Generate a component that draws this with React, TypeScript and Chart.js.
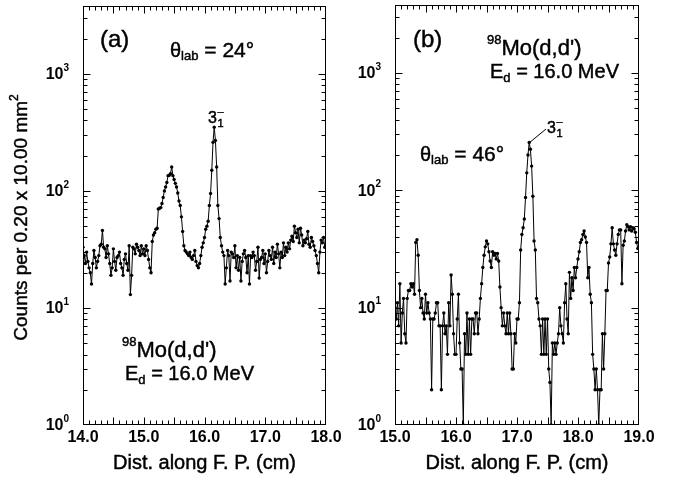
import React, { useEffect, useRef } from "react";
import { Chart, registerables } from "chart.js";
Chart.register(...registerables);

// ---------- data ----------
const xA = [
  14.00,14.02,14.04,14.06,14.08,14.10,14.12,14.14,14.16,14.18,
  14.20,14.22,14.24,14.26,14.28,14.30,14.32,14.34,14.36,14.38,
  14.40,14.42,14.44,14.46,14.48,14.50,14.52,14.54,14.56,14.58,
  14.60,14.62,14.64,14.66,14.68,14.70,14.72,14.74,14.76,14.78,
  14.80,14.82,14.84,14.86,14.88,14.90,14.92,14.94,14.96,14.98,
  15.00,15.02,15.04,15.06,15.08,15.10,15.12,15.14,15.16,15.18,
  15.20,15.22,15.24,15.26,15.28,15.30,15.32,15.34,15.36,15.38,
  15.40,15.42,15.44,15.46,15.48,15.50,15.52,15.54,15.56,15.58,
  15.60,15.62,15.64,15.66,15.68,15.70,15.72,15.74,15.76,15.78,
  15.80,15.82,15.84,15.86,15.88,15.90,15.92,15.94,15.96,15.98,
  16.00,16.02,16.04,16.06,16.08,16.10,16.12,16.14,16.16,16.18,
  16.20,16.22,16.24,16.26,16.28,16.30,16.32,16.34,16.36,16.38,
  16.40,16.42,16.44,16.46,16.48,16.50,16.52,16.54,16.56,16.58,
  16.60,16.62,16.64,16.66,16.68,16.70,16.72,16.74,16.76,16.78,
  16.80,16.82,16.84,16.86,16.88,16.90,16.92,16.94,16.96,16.98,
  17.00,17.02,17.04,17.06,17.08,17.10,17.12,17.14,17.16,17.18,
  17.20,17.22,17.24,17.26,17.28,17.30,17.32,17.34,17.36,17.38,
  17.40,17.42,17.44,17.46,17.48,17.50,17.52,17.54,17.56,17.58,
  17.60,17.62,17.64,17.66,17.68,17.70,17.72,17.74,17.76,17.78,
  17.80,17.82,17.84,17.86,17.88,17.90,17.92,17.94,17.96,17.98,
];
const countsA = [
  33,28,24,30,25,22,20,16,24,31,
  27,22,25,28,34,35,46,33,32,27,
  34,29,24,19,22,32,25,21,27,28,
  30,24,22,19,26,29,24,21,34,13,
  19,33,32,29,35,33,31,28,34,29,
  32,28,34,31,26,22,20,37,42,44,
  47,48,70,71,72,78,88,100,108,118,
  135,136,140,160,135,125,116,108,96,82,
  75,60,45,34,31,30,29,28,30,27,
  26,28,31,25,23,22,24,28,33,36,
  40,47,50,55,75,95,150,260,350,270,
  160,75,58,40,34,30,28,16,22,31,
  28,17,30,29,27,34,22,28,21,27,
  17,25,29,31,27,20,28,16,28,27,
  30,28,21,25,33,18,26,27,31,24,
  29,20,25,31,28,26,33,24,30,27,
  35,29,22,30,27,36,28,33,30,36,
  32,38,41,37,50,44,40,47,36,48,
  42,34,38,36,39,45,35,33,40,37,
  34,31,28,24,20,30,38,36,40,33,
];
const xB = [
  15.00,15.02,15.04,15.06,15.08,15.10,15.12,15.14,15.16,15.18,
  15.20,15.22,15.24,15.26,15.28,15.30,15.32,15.34,15.36,15.38,
  15.40,15.42,15.44,15.46,15.48,15.50,15.52,15.54,15.56,15.58,
  15.60,15.62,15.64,15.66,15.68,15.70,15.72,15.74,15.76,15.78,
  15.80,15.82,15.84,15.86,15.88,15.90,15.92,15.94,15.96,15.98,
  16.00,16.02,16.04,16.06,16.08,16.10,16.12,16.14,16.16,16.18,
  16.20,16.22,16.24,16.26,16.28,16.30,16.32,16.34,16.36,16.38,
  16.40,16.42,16.44,16.46,16.48,16.50,16.52,16.54,16.56,16.58,
  16.60,16.62,16.64,16.66,16.68,16.70,16.72,16.74,16.76,16.78,
  16.80,16.82,16.84,16.86,16.88,16.90,16.92,16.94,16.96,16.98,
  17.00,17.02,17.04,17.06,17.08,17.10,17.12,17.14,17.16,17.18,
  17.20,17.22,17.24,17.26,17.28,17.30,17.32,17.34,17.36,17.38,
  17.40,17.42,17.44,17.46,17.48,17.50,17.52,17.54,17.56,17.58,
  17.60,17.62,17.64,17.66,17.68,17.70,17.72,17.74,17.76,17.78,
  17.80,17.82,17.84,17.86,17.88,17.90,17.92,17.94,17.96,17.98,
  18.00,18.02,18.04,18.06,18.08,18.10,18.12,18.14,18.16,18.18,
  18.20,18.22,18.24,18.26,18.28,18.30,18.32,18.34,18.36,18.38,
  18.40,18.42,18.44,18.46,18.48,18.50,18.52,18.54,18.56,18.58,
  18.60,18.62,18.64,18.66,18.68,18.70,18.72,18.74,18.76,18.78,
  18.80,18.82,18.84,18.86,18.88,18.90,18.92,18.94,18.96,18.98,
];
const countsB = [
  10,8,11,7,16,5,9,12,6,5,
  12,14,14,16,15,16,13,36,38,28,
  14,10,12,9,8,13,9,11,9,8,
  2,8,8,9,11,11,7,7,2,7,
  9,6,7,4,11,7,19,13,6,4,
  4,8,13,5,3,3,1,6,4,9,
  4,8,4,8,8,6,9,9,6,8,
  12,16,22,28,33,37,35,30,25,22,
  30,28,29,26,29,25,15,10,7,9,
  7,6,9,6,9,6,3,3,6,5,
  8,8,11,31,42,48,57,87,141,200,
  256,224,161,89,37,31,12,11,8,7,
  4,8,4,8,4,8,3,2.3,1,5,
  4,5,4,5,6,10,7,6,5,11,
  16,8,6,20,12,18,14,22,18,22,
  26,30,36,38,42,45,40,36,18,22,
  13,11,4,3,2,3,2,1,2,2,
  6,3,6,14,14,24,27,35,48,35,
  31,28,35,42,46,46,16,34,37,45,
  51,49,46,49,45,48,47,44,36,32,
];
const xRangeA = [14.0, 18.0];
const xRangeB = [15.0, 19.0];
const yRange = [1, 3800];
const yDecades = [1, 10, 100, 1000];
const yDecadeExp = ["0", "1", "2", "3"];
const xTickLabelsA = [14, 15, 16, 17, 18];
const xTickLabelsB = [15, 16, 17, 18, 19];
const xTitle = "Dist. along F. P. (cm)";
const yTitle = "Counts per 0.20 x 10.00 mm";

const FONT = '"Liberation Sans", Arial, Helvetica, sans-serif';
const W = 680;
const H = 481;

type Part = { t: string; s: number; dy?: number; b?: boolean };
function fillT(ctx: CanvasRenderingContext2D, t: string, x: number, y: number, heavy = true) {
  ctx.fillText(t, x, y);
  if (heavy) {
    ctx.lineWidth = 0.45;
    ctx.strokeText(t, x, y);
  }
}
function rich(ctx: CanvasRenderingContext2D, x: number, y: number, parts: Part[]) {
  let cx = x;
  for (const p of parts) {
    ctx.font = `${p.b ? "bold " : ""}${p.s}px ${FONT}`;
    fillT(ctx, p.t, cx, y + (p.dy || 0), !p.b);
    cx += ctx.measureText(p.t).width;
  }
  return cx;
}
function richWidth(ctx: CanvasRenderingContext2D, parts: Part[]) {
  let w = 0;
  for (const p of parts) {
    ctx.font = `${p.b ? "bold " : ""}${p.s}px ${FONT}`;
    w += ctx.measureText(p.t).width;
  }
  return w;
}

type PanelCfg = {
  xs: number[];
  ys: number[];
  xRange: number[];
  xLabels: number[];
  padding: { left: number; right: number; top: number; bottom: number };
  showYTitle: boolean;
  annotate: (ctx: CanvasRenderingContext2D) => void;
};

function theta(ctx: CanvasRenderingContext2D, x: number, y: number, ang: string) {
  rich(ctx, x, y, [
    { t: "\u03B8", s: 20 },
    { t: "lab", s: 13, dy: 3 },
    { t: " = " + ang + "\u00B0", s: 21 },
  ]);
}
function state(ctx: CanvasRenderingContext2D, x: number, y: number) {
  ctx.font = `16px ${FONT}`;
  fillT(ctx, "3", x, y);
  const w = ctx.measureText("3").width;
  ctx.font = `11px ${FONT}`;
  fillT(ctx, "\u2013", x + w + 0.5, y - 8);
  fillT(ctx, "1", x + w + 0.5, y + 4);
}
function reaction(ctx: CanvasRenderingContext2D, x: number, y: number) {
  rich(ctx, x, y, [
    { t: "98", s: 13, dy: -11 },
    { t: "Mo(d,d')", s: 22 },
  ]);
}
function energy(ctx: CanvasRenderingContext2D, x: number, y: number) {
  rich(ctx, x, y, [
    { t: "E", s: 20 },
    { t: "d", s: 13, dy: 4 },
    { t: " = 16.0 MeV", s: 20 },
  ]);
}

const axesPlugin = {
  id: "physAxes",
  afterDatasetsDraw(chart: any, _a: any, opts: any) {
    const cfg: PanelCfg = opts.cfg;
    const ctx: CanvasRenderingContext2D = chart.ctx;
    const { left, right, top, bottom } = chart.chartArea;
    const xs = chart.scales.x;
    const ys = chart.scales.y;
    ctx.save();
    ctx.strokeStyle = "#000";
    ctx.fillStyle = "#000";
    ctx.lineWidth = 1;
    const L = Math.round(left) + 0.5, R = Math.round(right) - 0.5;
    const T = Math.round(top) + 0.5, B = Math.round(bottom) - 0.5;
    ctx.strokeRect(L, T, R - L, B - T);
    ctx.beginPath();
    // x ticks
    const [x0, x1] = cfg.xRange;
    const n = Math.round((x1 - x0) / 0.1);
    for (let i = 1; i < n; i++) {
      const v = x0 + i * 0.1;
      const px = Math.round(xs.getPixelForValue(v)) + 0.5;
      const len = i % 5 === 0 ? 7 : 4;
      ctx.moveTo(px, B); ctx.lineTo(px, B - len);
      ctx.moveTo(px, T); ctx.lineTo(px, T + len);
    }
    // y ticks
    for (const d of yDecades) {
      for (let m = 1; m <= 9; m++) {
        const v = d * m;
        if (v <= yRange[0] || v >= yRange[1]) continue;
        const py = Math.round(ys.getPixelForValue(v)) + 0.5;
        const len = m === 1 ? 7 : 4;
        ctx.moveTo(L, py); ctx.lineTo(L + len, py);
        ctx.moveTo(R, py); ctx.lineTo(R - len, py);
      }
    }
    ctx.stroke();
    // x tick labels
    ctx.textAlign = "center";
    ctx.textBaseline = "top";
    ctx.font = `bold 16px ${FONT}`;
    for (const v of cfg.xLabels) {
      ctx.fillText(v.toFixed(1), xs.getPixelForValue(v), bottom + 5);
    }
    // y tick labels
    ctx.textAlign = "left";
    ctx.textBaseline = "middle";
    yDecades.forEach((d, i) => {
      const py = ys.getPixelForValue(d);
      const parts: Part[] = [
        { t: "10", s: 16, b: true },
        { t: yDecadeExp[i], s: 10, b: true, dy: -7 },
      ];
      const w = richWidth(ctx, parts);
      rich(ctx, left - 14 - w, py + 1, parts);
    });
    // x title
    ctx.textAlign = "center";
    ctx.textBaseline = "alphabetic";
    ctx.font = `20px ${FONT}`;
    fillT(ctx, xTitle, (left + right) / 2, 469);
    // y title
    if (cfg.showYTitle) {
      ctx.save();
      ctx.translate(22, (top + bottom) / 2 + 2);
      ctx.rotate(-Math.PI / 2);
      ctx.textAlign = "left";
      ctx.textBaseline = "middle";
      const parts: Part[] = [
        { t: yTitle, s: 19 },
        { t: "2", s: 12, dy: -7 },
      ];
      const w = richWidth(ctx, parts);
      rich(ctx, -w / 2, 0, parts);
      ctx.restore();
    }
    ctx.textAlign = "left";
    ctx.textBaseline = "alphabetic";
    ctx.lineWidth = 1;
    cfg.annotate(ctx);
    ctx.restore();
  },
};

const panelA: PanelCfg = {
  xs: xA,
  ys: countsA,
  xRange: xRangeA,
  xLabels: xTickLabelsA,
  padding: { left: 83, right: W - 326, top: 6, bottom: H - 425 },
  showYTitle: true,
  annotate: (ctx) => {
    ctx.font = `24px ${FONT}`;
    fillT(ctx, "(a)", 100, 47);
    theta(ctx, 170, 57, "24");
    state(ctx, 208, 123);
    reaction(ctx, 122, 357);
    energy(ctx, 125, 380);
  },
};
const panelB: PanelCfg = {
  xs: xB,
  ys: countsB,
  xRange: xRangeB,
  xLabels: xTickLabelsB,
  padding: { left: 395, right: W - 639, top: 5, bottom: H - 425 },
  showYTitle: false,
  annotate: (ctx) => {
    ctx.font = `24px ${FONT}`;
    fillT(ctx, "(b)", 413, 47);
    reaction(ctx, 487, 55);
    energy(ctx, 490, 78);
    state(ctx, 547, 133);
    ctx.lineWidth = 1;
    ctx.beginPath();
    ctx.moveTo(529, 143);
    ctx.lineTo(546, 129);
    ctx.stroke();
    theta(ctx, 420, 161, "46");
  },
};

function Panel({ cfg }: { cfg: PanelCfg }) {
  const ref = useRef<HTMLCanvasElement | null>(null);
  useEffect(() => {
    if (!ref.current) return;
    const chart = new Chart(ref.current, {
      type: "line",
      data: {
        datasets: [
          {
            data: cfg.xs.map((x, i) => ({ x, y: cfg.ys[i] })),
            borderColor: "#000",
            borderWidth: 1,
            pointRadius: 1.7,
            pointBackgroundColor: "#000",
            pointBorderWidth: 0,
            pointBorderColor: "#000",
            tension: 0,
            fill: false,
          },
        ],
      },
      options: {
        responsive: false,
        animation: false,
        devicePixelRatio: 1,
        layout: { padding: cfg.padding },
        scales: {
          x: { type: "linear", min: cfg.xRange[0], max: cfg.xRange[1], display: false },
          y: { type: "logarithmic", min: yRange[0], max: yRange[1], display: false },
        },
        plugins: {
          legend: { display: false },
          tooltip: { enabled: false },
          physAxes: { cfg },
        } as any,
        events: [],
      },
      plugins: [axesPlugin],
    });
    return () => chart.destroy();
  }, [cfg]);
  return (
    <canvas
      ref={ref}
      width={W}
      height={H}
      style={{ position: "absolute", left: 0, top: 0, width: W, height: H }}
    />
  );
}

export default function App() {
  return (
    <div style={{ position: "fixed", left: 0, top: 0, width: W, height: H, background: "#fff" }}>
      <Panel cfg={panelA} />
      <Panel cfg={panelB} />
    </div>
  );
}
